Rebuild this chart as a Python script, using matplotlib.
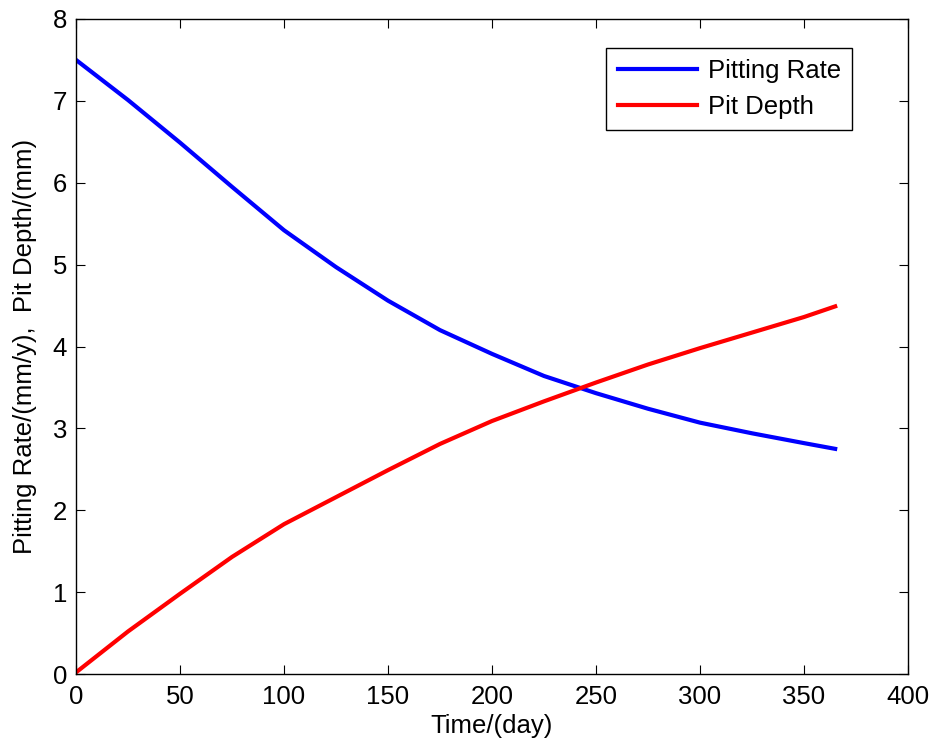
import matplotlib
matplotlib.use("Agg")
import matplotlib.pyplot as plt

plt.rcParams['font.family'] = ['Liberation Sans', 'DejaVu Sans']

# values
days = [0, 25, 50, 75, 100, 125, 150, 175, 200, 225, 250, 275, 300, 325, 350, 365]
pitting_rate = [7.5, 7.01, 6.49, 5.95, 5.42, 4.97, 4.56, 4.20, 3.91, 3.64, 3.43, 3.24, 3.07, 2.94, 2.82, 2.75]
pit_depth = [0.02, 0.52, 0.98, 1.43, 1.83, 2.16, 2.49, 2.81, 3.09, 3.33, 3.56, 3.78, 3.98, 4.17, 4.36, 4.49]

fig = plt.figure(figsize=(9.35, 7.5), dpi=100)
ax = fig.add_axes([0.0813, 0.1013, 0.8898, 0.8734])

ax.plot(days, pitting_rate, color="blue", lw=3, label="Pitting Rate")
ax.plot(days, pit_depth, color="red", lw=3, label="Pit Depth")

ax.set_xlim(0, 400)
ax.set_ylim(0, 8)
ax.set_xticks(range(0, 401, 50))
ax.set_yticks(range(0, 9))
ax.tick_params(direction="in", top=True, right=True, labelsize=18.5, length=6.5)
ax.tick_params(axis="x", pad=8)
ax.tick_params(axis="y", pad=6.5)
for s in ax.spines.values():
    s.set_linewidth(1)

ax.set_xlabel("Time/(day)", fontsize=18.5)
ax.set_ylabel("Pitting Rate/(mm/y),  Pit Depth/(mm)", fontsize=18.5)
ax.xaxis.set_label_coords(0.5, -0.061)
ax.yaxis.set_label_coords(-0.047, 0.5)

leg = ax.legend(loc="upper right", bbox_to_anchor=(0.933, 0.956), fontsize=18.5,
                fancybox=False, framealpha=1, edgecolor="black", handlelength=3.1,
                borderpad=0.45, labelspacing=0.45, handletextpad=0.4, borderaxespad=0)
leg.get_frame().set_linewidth(1)

fig.savefig("out.png", dpi=100)
